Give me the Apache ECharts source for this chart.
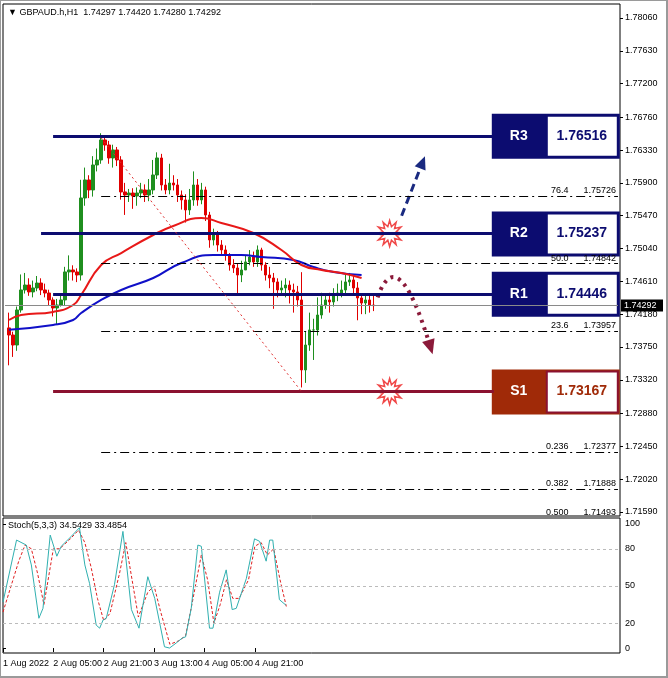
<!DOCTYPE html>
<html>
<head>
<meta charset="utf-8">
<script src="https://cdn.jsdelivr.net/npm/echarts@6/dist/echarts.min.js"></script>
<style>
  html, body { margin: 0; padding: 0; background: #fff; }
  #chart { width: 668px; height: 678px; }
</style>
</head>
<body>
<div id="chart"></div>
<script>
// hourly candles, GBPAUD H1
var closes = [1.73907,1.73776,1.74235,1.74497,1.74562,1.74471,1.74523,1.74588,1.74497,1.74457,1.74366,1.74261,1.74300,1.74366,1.74733,1.74759,1.74733,1.74693,1.75702,1.75938,
  1.75807,1.76134,1.76200,1.76462,1.76396,1.76226,1.76331,1.76200,1.75781,1.75741,1.75767,1.75728,1.75767,1.75807,1.75741,1.75807,1.76003,1.76226,1.75872,1.75807,
  1.75898,1.75872,1.75741,1.75676,1.75545,1.75676,1.75872,1.75676,1.75807,1.75479,1.75152,1.75217,1.75086,1.75021,1.74955,1.74824,1.74785,1.74693,1.74759,1.74864,
  1.74929,1.74864,1.75021,1.74824,1.74693,1.74654,1.74602,1.74497,1.74523,1.74562,1.74497,1.74471,1.74366,1.73449,1.73776,1.73973,1.73973,1.74169,1.74300,1.74366,
  1.74340,1.74431,1.74457,1.74497,1.74602,1.74628,1.74523,1.74392,1.74326,1.74366,1.74300,1.74292];
var highs = [1.7420,1.7395,1.7428,1.7470,1.7472,1.7465,1.7462,1.7468,1.7465,1.7458,1.7450,1.7440,1.7438,1.7442,1.7480,1.7495,1.7482,1.7478,1.7594,1.7610,
  1.7600,1.7625,1.7635,1.7655,1.7652,1.7645,1.7640,1.7637,1.7625,1.7590,1.7582,1.7583,1.7584,1.7590,1.7588,1.7595,1.7620,1.7630,1.7628,1.7595,
  1.7615,1.7600,1.7595,1.7580,1.7575,1.7582,1.7605,1.7595,1.7590,1.7585,1.7552,1.7530,1.7527,1.7515,1.7508,1.7498,1.7490,1.7485,1.7488,1.7495,
  1.7502,1.7500,1.7508,1.7505,1.7486,1.7480,1.7472,1.7465,1.7462,1.7465,1.7462,1.7458,1.7455,1.7473,1.7395,1.7420,1.7412,1.7440,1.7446,1.7445,
  1.7446,1.7452,1.7458,1.7462,1.7470,1.7472,1.7470,1.7460,1.7445,1.7442,1.7442,1.7442];
var lows = [1.7351,1.7362,1.7370,1.7420,1.7445,1.7442,1.7440,1.7448,1.7443,1.7440,1.7430,1.7415,1.7405,1.7428,1.7430,1.7462,1.7462,1.7460,1.7462,1.7560,
  1.7570,1.7572,1.7605,1.7615,1.7632,1.7615,1.7610,1.7612,1.7568,1.7548,1.7565,1.7556,1.7560,1.7570,1.7565,1.7566,1.7575,1.7595,1.7580,1.7575,
  1.7575,1.7580,1.7565,1.7555,1.7538,1.7548,1.7560,1.7560,1.7562,1.7540,1.7505,1.7508,1.7500,1.7495,1.7488,1.7475,1.7472,1.7442,1.7460,1.7478,
  1.7482,1.7480,1.7480,1.7475,1.7462,1.7452,1.7425,1.7440,1.7442,1.7440,1.7432,1.7420,1.7428,1.7322,1.7328,1.7370,1.7358,1.7390,1.7412,1.7425,
  1.7420,1.7428,1.7435,1.7440,1.7445,1.7455,1.7445,1.7410,1.7418,1.7418,1.7420,1.7422];
var firstOpen = 1.7400;

// moving averages, [candle index, price]
var maRed = [[0,1.74104],[3,1.74169],[11,1.74209],[16,1.74300],[18,1.74431],[23,1.74824],[28,1.74981],[36,1.75217],[41,1.75335],[48,1.75440],
  [53,1.75374],[61,1.75243],[68,1.75021],[73,1.74824],[78,1.74759],[83,1.74719],[88,1.74654]];
var maBlue = [[0,1.73976],[11,1.74038],[16,1.74104],[18,1.74195],[23,1.74366],[28,1.74497],[36,1.74654],[43,1.74850],[51,1.74955],[58,1.74955],
  [63,1.74929],[71,1.74890],[76,1.74798],[81,1.74733],[88,1.74693]];

// levels
var levelNames = ['R3', 'R2', 'R1', 'S1'];
var levelValues = [1.76516, 1.75237, 1.74446, 1.73167];
var levelStart = [12, 9, 12, 12];
var fibNames = ['76.4', '50.0', '23.6', '0.236', '0.382', '0.500'];
var fibValues = [1.75726, 1.74842, 1.73957, 1.72377, 1.71888, 1.71493];
var lastPrice = 1.74292;
var priceTicks = [1.78060,1.77630,1.77200,1.76760,1.76330,1.75900,1.75470,1.75040,1.74610,1.74180,1.73750,1.73320,1.72880,1.72450,1.72020,1.71590];

// stochastic (5,3,3), [hour slot, value]
var stochMain = [[0,37],[4.3,87],[7.4,83],[9,67],[11.4,24],[12.7,32],[15,91],[17.1,74],[18.5,82],[21.7,90],[24.3,97],[26,67],[27.5,52],[29.6,18.5],
  [30.7,16],[31.8,22.6],[32.8,24],[35.4,51],[38.1,94],[40.8,31],[43.2,16],[46,57.5],[48.2,40],[51.3,1],[52.9,0],[55,4],[56.9,8],[58,9],[59.8,32],
  [61.9,83],[63,82],[65.6,16],[66.7,16],[68.8,45],[70.9,63],[72.8,31],[74.1,32],[77.3,56],[79.9,88],[81.5,86],[83.6,70],[84.7,87],[85.7,87],[87.8,39],[89.9,34.5]];
var stochSignal = [[0,29],[5,70],[7,83],[9,80],[11,60],[13,35],[16,80],[18,80],[21,87],[24,95],[26,85],[28,65],[30,40],[32,22],[34,28],[37,60],
  [39,85],[41,55],[43,25],[46,45],[48,50],[50,30],[53,3],[56,6],[58,10],[60,35],[63,75],[65,55],[67,20],[69,35],[71,55],[73,40],[75,40],[78,55],
  [80,82],[82,85],[84,75],[86,80],[88,55],[90,33.5]];
var stochTicks = [100, 80, 50, 20, 0];
var timeSlots = [0, 16, 32, 48, 64, 80];
var timeLabels = ['1 Aug 2022', '2 Aug 05:00', '2 Aug 21:00', '3 Aug 13:00', '4 Aug 05:00', '4 Aug 21:00'];

var NAVY = '#0c0c70', MAROON = '#8b1230', BRICK = '#a02a08';
var font = 'Liberation Sans';

var slots = 154;
var cats = [];
for (var i = 0; i < slots; i++) cats.push(String(i));
var candles = ['-'];
for (var i = 0; i < closes.length; i++) {
  var o = i === 0 ? firstOpen : closes[i - 1];
  candles.push([o, closes[i], lows[i], highs[i]]);
}
function shift(arr) { return arr.map(function (p) { return [p[0] + 1, p[1]]; }); }

var lineMarks = [];
levelValues.forEach(function (v, k) {
  lineMarks.push([{ coord: [levelStart[k], v], lineStyle: { color: k === 3 ? MAROON : NAVY, width: 3, type: 'solid' } },
    { coord: [122, v] }]);
});
fibValues.slice(0, 5).forEach(function (v, k) {
  lineMarks.push([{ coord: [24, v], lineStyle: { color: '#000', width: 1, type: [9, 4, 2, 4] },
      label: { show: true, position: 'insideEndTop', formatter: fibNames[k] + '      ' + v.toFixed(5), color: '#000', fontSize: 9, fontFamily: font, distance: [2, 1] } },
    { coord: [153, v] }]);
});
lineMarks.push([{ coord: [0, lastPrice], lineStyle: { color: '#8a8a8a', width: 1, type: 'solid' } }, { coord: [153, lastPrice] }]);
lineMarks.push([{ coord: [24, 1.7649], lineStyle: { color: '#e03030', width: 1, type: [2, 3] } }, { coord: [74, 1.73167] }]);

var chartDom = document.getElementById('chart');
var myChart = echarts.init(chartDom);
var option = {
  animation: false,
  backgroundColor: '#fff',
  grid: [
    { left: 3, top: 4, width: 617, height: 512 },
    { left: 3, top: 518, width: 617, height: 135 }
  ],
  xAxis: [
    { type: 'category', data: cats, gridIndex: 0, boundaryGap: true, axisLine: { show: false }, axisTick: { show: false }, axisLabel: { show: false } },
    { type: 'value', gridIndex: 1, min: 0, max: 196, axisLine: { show: false }, splitLine: { show: false },
      axisTick: { show: true, length: 4, inside: false, customValues: timeSlots, lineStyle: { color: '#000' } },
      axisLabel: { show: true, customValues: timeSlots, align: 'left', margin: 6, fontSize: 9, fontFamily: font, color: '#000',
        formatter: function (v) { return timeLabels[timeSlots.indexOf(v)]; } } }
  ],
  yAxis: [
    { type: 'value', gridIndex: 0, position: 'right', min: 1.71536, max: 1.78243, scale: true, splitLine: { show: false },
      axisLine: { show: false },
      axisTick: { show: true, length: 3, customValues: priceTicks, lineStyle: { color: '#000' } },
      axisLabel: { customValues: priceTicks, margin: 5, fontSize: 9, fontFamily: font, color: '#000', formatter: function (v) { return v.toFixed(5); } } },
    { type: 'value', gridIndex: 1, position: 'right', min: -4, max: 104.8,
      axisLine: { show: false },
      splitLine: { show: false },
      axisTick: { show: true, length: 3, customValues: stochTicks, lineStyle: { color: '#000' } },
      axisLabel: { customValues: stochTicks, margin: 5, fontSize: 9, fontFamily: font, color: '#000' } }
  ],
  series: [
    { type: 'candlestick', xAxisIndex: 0, yAxisIndex: 0, data: candles, barWidth: 3,
      itemStyle: { color: '#1f8f1f', color0: '#e00000', borderColor: '#1f8f1f', borderColor0: '#e00000', borderWidth: 1 },
      markLine: { symbol: 'none', silent: true, label: { show: false }, data: lineMarks } },
    { type: 'line', xAxisIndex: 0, yAxisIndex: 0, data: shift(maBlue), smooth: true, symbol: 'none', lineStyle: { color: '#1010c8', width: 2 } },
    { type: 'line', xAxisIndex: 0, yAxisIndex: 0, data: shift(maRed), smooth: true, symbol: 'none', lineStyle: { color: '#e81818', width: 2 } },
    { type: 'line', xAxisIndex: 1, yAxisIndex: 1, data: stochSignal, symbol: 'none', lineStyle: { color: '#e02020', width: 1, type: [3, 2] },
      markLine: { symbol: 'none', silent: true, label: { show: false }, lineStyle: { color: '#bbb', type: [3, 3], width: 1 },
        data: [{ yAxis: 80 }, { yAxis: 50 }, { yAxis: 20 }] } },
    { type: 'line', xAxisIndex: 1, yAxisIndex: 1, data: stochMain, symbol: 'none', lineStyle: { color: '#30b0b0', width: 1 } }
  ]
};
myChart.setOption(option);

function px(slot, price) { return myChart.convertToPixel({ xAxisIndex: 0, yAxisIndex: 0 }, [slot, price]); }
function star(c, ro, ri) {
  var pts = [];
  for (var k = 0; k < 24; k++) {
    var a = Math.PI * k / 12;
    var r = k % 2 ? ri : ro;
    pts.push([c[0] + r * Math.cos(a), c[1] + r * Math.sin(a)]);
  }
  return pts;
}
function head(from, to, size, color) {
  var a = Math.atan2(to[1] - from[1], to[0] - from[0]);
  return { type: 'polygon', shape: { points: [
      [to[0] + size * Math.cos(a), to[1] + size * Math.sin(a)],
      [to[0] + size * 0.8 * Math.cos(a + 2.2), to[1] + size * 0.8 * Math.sin(a + 2.2)],
      [to[0] + size * 0.8 * Math.cos(a - 2.2), to[1] + size * 0.8 * Math.sin(a - 2.2)]] },
    style: { fill: color } };
}

var g = [];
// pane frames
g.push({ type: 'rect', shape: { x: 3, y: 4, width: 617, height: 512 }, style: { fill: 'none', stroke: '#000', lineWidth: 1 } });
g.push({ type: 'rect', shape: { x: 3, y: 518, width: 617, height: 135 }, style: { fill: 'none', stroke: '#000', lineWidth: 1 } });
g.push({ type: 'rect', shape: { x: 0, y: 0, width: 667, height: 677 }, style: { fill: 'none', stroke: '#9a9a9a', lineWidth: 2 } });
g.push({ type: 'text', left: 8, top: 8, style: { text: '\u25BC GBPAUD.h,H1  1.74297 1.74420 1.74280 1.74292', fontSize: 9, fontFamily: font, fill: '#000' } });
g.push({ type: 'text', left: 8, top: 521, style: { text: 'Stoch(5,3,3) 34.5429 33.4854', fontSize: 9, fontFamily: font, fill: '#000' } });
// last fib label, line itself lies under the pane
var f5 = px(153, priceTicks[priceTicks.length - 1]);
g.push({ type: 'text', x: 616, y: f5[1] + 1, style: { text: fibNames[5] + '      ' + fibValues[5].toFixed(5), fontSize: 9, fontFamily: font, fill: '#000', align: 'right', verticalAlign: 'middle' } });
// level boxes
levelValues.forEach(function (v, k) {
  var p = px(122, v);
  var col = k === 3 ? BRICK : NAVY;
  var x0 = p[0] - 2, y0 = p[1] - 22;
  g.push({ type: 'rect', shape: { x: x0, y: y0, width: 128, height: 45 }, style: { fill: col } });
  g.push({ type: 'rect', shape: { x: x0 + 55, y: y0 + 2, width: 71, height: 41 }, style: { fill: '#fff', stroke: k === 3 ? MAROON : NAVY, lineWidth: 2 } });
  g.push({ type: 'text', x: x0 + 27, y: p[1], style: { text: levelNames[k], fill: '#fff', fontSize: 14, fontWeight: 'bold', fontFamily: font, align: 'center', verticalAlign: 'middle' } });
  g.push({ type: 'text', x: x0 + 90, y: p[1], style: { text: v.toFixed(5), fill: k === 3 ? BRICK : NAVY, fontSize: 14, fontWeight: 'bold', fontFamily: font, align: 'center', verticalAlign: 'middle' } });
});
// last price tag
var lp = px(153, lastPrice);
g.push({ type: 'rect', shape: { x: 621, y: lp[1] - 6, width: 42, height: 12 }, style: { fill: '#000' } });
g.push({ type: 'text', x: 624, y: lp[1], style: { text: lastPrice.toFixed(5), fill: '#fff', fontSize: 9, fontFamily: font, verticalAlign: 'middle' } });
// breakout stars
[levelValues[1], levelValues[3]].forEach(function (v) {
  g.push({ type: 'polygon', shape: { points: star(px(96, v), 13, 7) }, style: { fill: '#fff', stroke: '#f04848', lineWidth: 1.5 } });
});
// blue dashed arrow up
var b1 = px(98.5, 1.7547), b2 = px(104, 1.7614);
g.push({ type: 'line', shape: { x1: b1[0], y1: b1[1], x2: b2[0], y2: b2[1] }, style: { stroke: '#1a2a80', lineWidth: 3, lineDash: [8, 5] } });
g.push(head(b1, b2, 9, '#1a2a80'));
// maroon dotted arrow down
var m1 = px(92.5, 1.7440), mc = px(98, 1.7515), m2 = px(106, 1.7378);
g.push({ type: 'bezierCurve', shape: { x1: m1[0], y1: m1[1], x2: m2[0], y2: m2[1], cpx1: mc[0], cpy1: mc[1] },
  style: { stroke: '#8b1a3a', lineWidth: 4, lineDash: [3, 5], fill: 'none' } });
g.push(head(mc, m2, 10, '#8b1a3a'));
myChart.setOption({ graphic: g });

window.addEventListener('resize', function () { myChart.resize(); });
</script>
</body>
</html>
